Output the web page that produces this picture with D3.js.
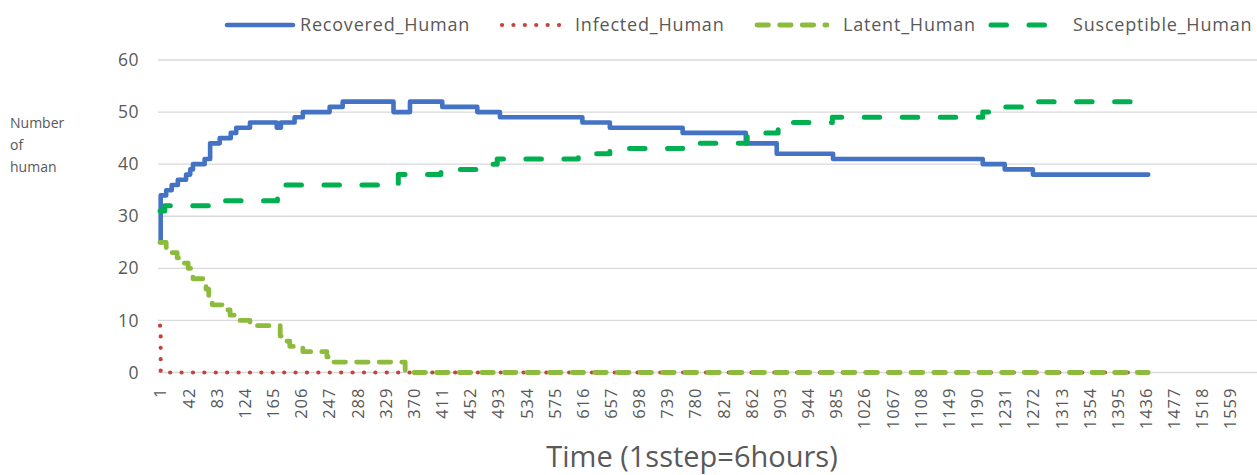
<!DOCTYPE html>
<html>
<head>
<meta charset="utf-8">
<script src="https://cdn.jsdelivr.net/npm/d3@7/dist/d3.min.js"></script>
<style>
  body { margin: 0; background: #fff; }
  text { font-family: "Open Sans", sans-serif; fill: #595959; }
</style>
</head>
<body>
<svg id="chart"></svg>
<script>
// tick labels on the category axis
const tickLabels = [1, 42, 83, 124, 165, 206, 247, 288, 329, 370, 411, 452, 493, 534, 575, 616, 657,
  698, 739, 780, 821, 862, 903, 944, 985, 1026, 1067, 1108, 1149, 1190, 1231, 1272, 1313, 1354,
  1395, 1436, 1477, 1518, 1559];
const yTicks = [0, 10, 20, 30, 40, 50, 60];
const lastStep = 1440;

// step where a value starts, and the value from then on
const recoveredSteps  = [1, 2, 10, 18, 27, 39, 45, 49, 66, 74, 88, 104, 112, 132, 171, 177, 197, 209,
  248, 267, 341, 365, 412, 463, 496, 616, 656, 762, 854, 899, 981, 1199, 1231, 1272];
const recoveredValues = [25, 34, 35, 36, 37, 38, 39, 40, 41, 44, 45, 46, 47, 48, 47, 48, 49, 50,
  51, 52, 50, 52, 51, 50, 49, 48, 47, 46, 44, 42, 41, 40, 39, 38];

const infectedSteps  = [1, 2];
const infectedValues = [9, 0];

const latentSteps  = [1, 10, 18, 26, 33, 42, 49, 68, 72, 77, 96, 103, 112, 132, 176, 181, 190, 209, 244, 253, 358];
const latentValues = [25, 24, 23, 22, 21, 20, 18, 16, 14, 13, 12, 11, 10, 9, 7, 6, 5, 4, 3, 2, 0];

const susceptibleSteps  = [1, 8, 74, 172, 176, 348, 410, 463, 492, 610, 656, 762, 856, 901, 980, 1199, 1224, 1271];
const susceptibleValues = [31, 32, 33, 34, 36, 38, 39, 40, 41, 42, 43, 44, 46, 48, 49, 50, 51, 52];

const series = [
  { name: "Recovered_Human", steps: recoveredSteps, values: recoveredValues,
    color: "#4472C4", width: 4.6, dash: null, cap: "round" },
  { name: "Infected_Human", steps: infectedSteps, values: infectedValues,
    color: "#C8423D", width: 4.2, dash: "0.1 11.3", cap: "round" },
  { name: "Latent_Human", steps: latentSteps, values: latentValues,
    color: "#8DBB3E", width: 4.8, dash: "11.5 11.1", cap: "round" },
  { name: "Susceptible_Human", steps: susceptibleSteps, values: susceptibleValues,
    color: "#00B050", width: 5, dash: "15.5 22.5", cap: "round" }
];

const width = 1257, height = 475;
const svg = d3.select("#chart").attr("width", width).attr("height", height);

const x = d3.scaleLinear().domain([1, 1559]).range([160, 1230]);
const y = d3.scaleLinear().domain([0, 60]).range([372.5, 60]);

// gridlines
svg.append("g")
  .selectAll("line")
  .data(yTicks)
  .join("line")
    .attr("x1", x(1) - 2)
    .attr("x2", width)
    .attr("y1", d => y(d))
    .attr("y2", d => y(d))
    .attr("stroke", "#D9D9D9")
    .attr("stroke-width", 1.3);

// y axis labels
const yAxis = svg.append("g")
  .attr("transform", `translate(${x(1) - 21},0)`)
  .call(d3.axisLeft(y).tickValues(yTicks).tickSize(0).tickPadding(0));
yAxis.select(".domain").remove();
yAxis.selectAll("text")
  .attr("font-size", 17.5)
  .attr("letter-spacing", 0.5)
  .attr("font-family", null)
  .attr("fill", null);

// x axis labels
const xAxis = svg.append("g")
  .attr("transform", `translate(0,${y(0)})`)
  .call(d3.axisBottom(x).tickValues(tickLabels).tickSize(0).tickFormat(d3.format("d")));
xAxis.select(".domain").remove();
xAxis.selectAll("text")
  .attr("font-size", 16.5)
  .attr("font-family", null)
  .attr("fill", null)
  .attr("letter-spacing", 1)
  .attr("text-anchor", "end")
  .attr("transform", "rotate(-90)")
  .attr("x", -15)
  .attr("y", 0)
  .attr("dy", "0.36em");

// lines
const line = d3.line()
  .x(d => x(d[0]))
  .y(d => y(d[1]))
  .curve(d3.curveStepAfter);

series.forEach(s => {
  const pts = s.steps.map((st, i) => [st, s.values[i]]);
  pts.push([lastStep, s.values[s.values.length - 1]]);
  svg.append("path")
    .datum(pts)
    .attr("fill", "none")
    .attr("stroke", s.color)
    .attr("stroke-width", s.width)
    .attr("stroke-dasharray", s.dash)
    .attr("stroke-linecap", s.cap)
    .attr("stroke-linejoin", "round")
    .attr("d", line);
});

// legend
const legendX = [227, 502, 757, 991];
const legendW = [66, 62, 70, 67];
const legendTextX = [300, 575, 843, 1073];
const legend = svg.append("g");
series.forEach((s, i) => {
  legend.append("line")
    .attr("x1", legendX[i]).attr("x2", legendX[i] + legendW[i])
    .attr("y1", 25).attr("y2", 25)
    .attr("stroke", s.color)
    .attr("stroke-width", s.width)
    .attr("stroke-dasharray", s.dash)
    .attr("stroke-linecap", s.cap);
  legend.append("text")
    .attr("x", legendTextX[i])
    .attr("y", 31)
    .attr("font-size", 18)
    .attr("letter-spacing", 0.8)
    .text(s.name);
});

// y title
svg.append("text")
  .attr("font-size", 14)
  .selectAll("tspan")
  .data(["Number", "of", "human"])
  .join("tspan")
    .attr("x", 10)
    .attr("y", (d, i) => 128 + i * 22)
    .text(d => d);

// x title
svg.append("text")
  .attr("x", 692)
  .attr("y", 467)
  .attr("text-anchor", "middle")
  .attr("font-size", 29)
  .text("Time (1sstep=6hours)");
</script>
</body>
</html>
